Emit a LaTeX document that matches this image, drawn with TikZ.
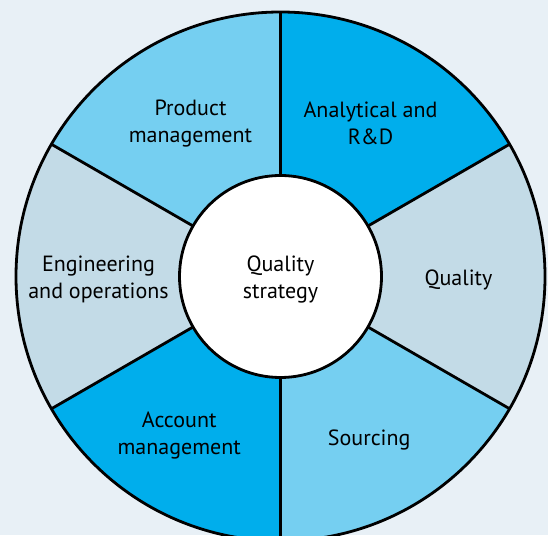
\documentclass[tikz,border=0pt]{standalone}
\usepackage{fontspec}
\setmainfont{PT Sans}
\definecolor{pagebg}{HTML}{E8F0F6}
\definecolor{darkblue}{HTML}{00AEEC}
\definecolor{lightblue}{HTML}{75CFF1}
\definecolor{greyblue}{HTML}{C3DBE7}
\begin{document}
\begin{tikzpicture}[x=1pt,y=1pt,
  segtext/.style={align=center,font=\fontsize{22}{27}\selectfont,text=black,yshift=-3pt}]
  \fill[pagebg] (0,0) rectangle (548,535);
  \useasboundingbox (0,0) rectangle (548,535);
  \coordinate (c) at (280.5,258.5);
  \begin{scope}
    \clip (0,0) rectangle (548,535);
    % six sectors, anticlockwise from 30 degrees
    \foreach \a/\col in {30/darkblue,90/lightblue,150/greyblue,210/darkblue,270/lightblue,330/greyblue}
      \fill[\col] (c) -- ++(\a:264.5) arc[start angle=\a,end angle=\a+60,radius=264.5] -- cycle;
    \foreach \a in {30,90,...,330}
      \draw[line width=2.8pt] (c) -- ++(\a:264.5);
    \draw[line width=2.8pt] (c) circle[radius=264.5];
  \end{scope}
  \node[circle,draw,line width=2.8pt,fill=white,minimum size=202pt,inner sep=0pt] (hub) at (c) {};
  \node[segtext] (hubtext) at (hub.center) {Quality\\strategy};
  \node[segtext] (analytical) at ([shift={(60:180)}]c) {Analytical and\\R\&D};
  \node[segtext] (product) at ([shift={(120:180)}]c) {Product\\management};
  \node[segtext] (engineering) at ([shift={(180:182)}]c) {Engineering\\and operations};
  \node[segtext] (account) at ([shift={(237:186)}]c) {Account\\management};
  \node[segtext] (sourcing) at ([shift={(299:183)}]c) {Sourcing};
  \node[segtext] (quality) at ([shift={(0:178)}]c) {Quality};
\end{tikzpicture}
\end{document}
